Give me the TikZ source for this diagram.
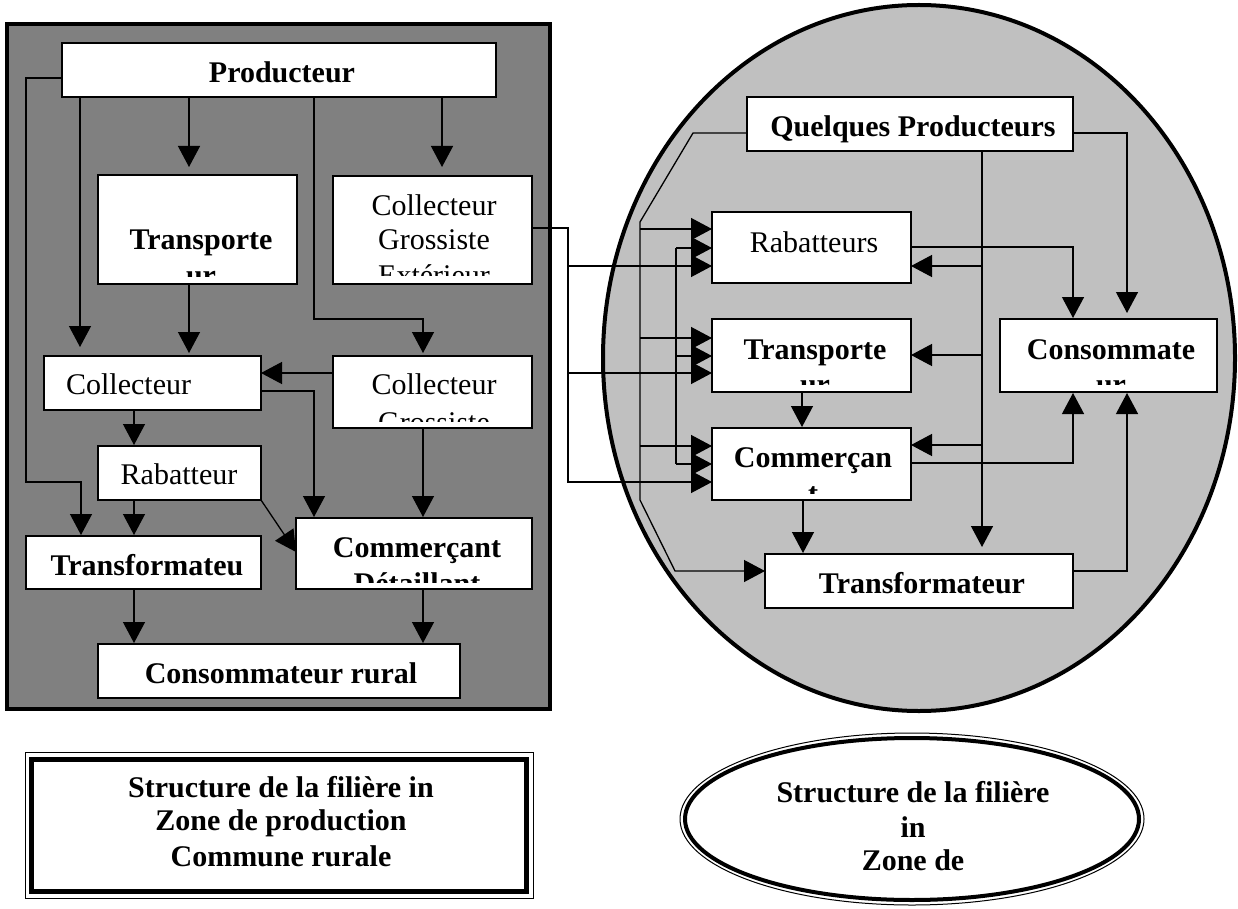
\documentclass[tikz,border=0pt]{standalone}
\usepackage{fontspec}
\setmainfont{Liberation Serif}
\usetikzlibrary{arrows.meta}
\definecolor{darkpanel}{HTML}{808080}
\definecolor{lightpanel}{HTML}{C0C0C0}
\begin{document}
\begin{tikzpicture}[x=1pt, y=-1pt,
  box/.style={draw, line width=1.4pt, fill=white, inner sep=0pt, outer sep=0pt},
  conn/.style={line width=1.3pt},
  arr/.style={conn, -{Triangle[length=21pt,width=22pt]}},
  txt/.style={anchor=base, inner sep=0pt, font=\fontsize{30}{34}\selectfont},
  btxt/.style={anchor=base, inner sep=0pt, font=\fontsize{30}{34}\selectfont\bfseries}]
\useasboundingbox (0,0) rectangle (1238,909);
\fill[white] (0,0) rectangle (1238,909);

% panels
\draw[line width=4.5pt, fill=darkpanel] (7,24) rectangle (550,709);
\draw[line width=4pt, fill=lightpanel] (919,358) ellipse [x radius=316pt, y radius=353pt];

% ---------- left boxes ----------
\node[box, minimum width=434pt, minimum height=54pt] (prod) at (279,70) {};
\node[box, minimum width=199pt, minimum height=109pt] (ltr) at (197.5,229.5) {};
\node[box, minimum width=199pt, minimum height=108pt] (cge) at (432.5,230) {};
\node[box, minimum width=217pt, minimum height=54pt] (coll) at (152.5,383) {};
\node[box, minimum width=199pt, minimum height=72pt] (cg) at (432.5,392) {};
\node[box, minimum width=163pt, minimum height=54pt] (rab) at (179.5,473) {};
\node[box, minimum width=235pt, minimum height=53pt] (trf) at (143.5,562.5) {};
\node[box, minimum width=236pt, minimum height=71pt] (cd) at (414,553.5) {};
\node[box, minimum width=362pt, minimum height=54pt] (cr) at (279,671) {};

% ---------- right boxes ----------
\node[box, minimum width=326pt, minimum height=54pt] (qp) at (910,124) {};
\node[box, minimum width=199pt, minimum height=71pt] (rrab) at (811.5,247.5) {};
\node[box, minimum width=199pt, minimum height=73pt] (rtr) at (811.5,355.5) {};
\node[box, minimum width=199pt, minimum height=72pt] (rcom) at (811.5,464) {};
\node[box, minimum width=217pt, minimum height=73pt] (rcons) at (1108.5,355.5) {};
\node[box, minimum width=308pt, minimum height=54pt] (rtrf) at (919,581) {};

% ---------- left texts ----------
\node[btxt] (tprod) at (282,83) {Producteur};
\begin{scope}
  \clip (98,175) rectangle (297,276);
  \node[btxt] (tltr1) at (201,250) {Transporte};
  \node[btxt] (tltr2) at (201,285) {ur};
\end{scope}
\begin{scope}
  \clip (333,176) rectangle (532,275);
  \node[txt] (tcge1) at (434,215) {Collecteur};
  \node[txt] (tcge2) at (434,250) {Grossiste};
  \node[txt] (tcge3) at (434,285) {Extérieur};
\end{scope}
\node[txt] (tcoll) at (128.6,394) {Collecteur};
\begin{scope}
  \clip (333,356) rectangle (532,421);
  \node[txt] (tcg1) at (434,394) {Collecteur};
  \node[txt] (tcg2) at (434,432) {Grossiste};
\end{scope}
\node[txt] (trab) at (179,484) {Rabatteur};
\node[btxt] (ttrf) at (147,575) {Transformateu};
\begin{scope}
  \clip (296,518) rectangle (532,582);
  \node[btxt] (tcd1) at (417,557) {Commerçant};
  \node[btxt] (tcd2) at (417,593) {Détaillant};
\end{scope}
\node[btxt] (tcr) at (281,683) {Consommateur rural};

% ---------- right texts ----------
\node[btxt] (tqp) at (913,137) {Quelques Producteurs};
\node[txt] (trrab) at (814,252) {Rabatteurs};
\begin{scope}
  \clip (712,319) rectangle (911,384);
  \node[btxt] (trtr1) at (815,359) {Transporte};
  \node[btxt] (trtr2) at (815,394) {ur};
\end{scope}
\begin{scope}
  \clip (712,428) rectangle (911,493);
  \node[btxt] (trcom1) at (813,467) {Commerçan};
  \node[btxt] (trcom2) at (813,503) {t};
\end{scope}
\begin{scope}
  \clip (1000,319) rectangle (1217,384);
  \node[btxt] (trcons1) at (1111,359) {Consommate};
  \node[btxt] (trcons2) at (1111,394) {ur};
\end{scope}
\node[btxt] (trtrf) at (922,593) {Transformateur};

% ---------- left connectors ----------
\draw[arr, shorten >=1pt] (prod.west |- 0,78) -- (26,78) -- (26,482) -- (81,482) -- (81,0 |- trf.north);
\draw[arr, shorten >=9pt] (80,0 |- prod.south) -- (80,0 |- coll.north);
\draw[arr, shorten >=8pt] (189,0 |- prod.south) -- (189,0 |- ltr.north);
\draw[arr, shorten >=9pt] (442,0 |- prod.south) -- (442,0 |- cge.north);
\draw[arr, shorten >=3pt] (314,0 |- prod.south) -- (314,319) -- (423,319) -- (423,0 |- cg.north);
\draw[arr, shorten >=3pt] (189,0 |- ltr.south) -- (189,0 |- coll.north);
\draw[arr] (cg.west |- 0,373) -- (coll.east |- 0,373);
\draw[arr, shorten >=1pt] (coll.east |- 0,391) -- (314,391) -- (314,0 |- cd.north);
\draw[arr, shorten >=1pt] (134,0 |- coll.south) -- (134,0 |- rab.north);
\draw[arr, shorten >=1pt] (134,0 |- rab.south) -- (134,0 |- trf.north);
\draw[arr] (rab.south east) -- (cd.west |- 0,552);
\draw[arr, shorten >=1pt] (423,0 |- cg.south) -- (423,0 |- cd.north);
\draw[arr, shorten >=1pt] (134,0 |- trf.south) -- (134,0 |- cr.north);
\draw[arr, shorten >=1pt] (423,0 |- cd.south) -- (423,0 |- cr.north);

% ---------- links into right panel ----------
\coordinate (ja) at (568,266);
\coordinate (jb) at (568,373);
\draw[arr] (cge.east |- 0,228) -- (568,228) -- (568,482) -- (rcom.west |- 0,482);
\draw[arr] (ja) -- (rrab.west |- ja);
\draw[arr] (jb) -- (rtr.west |- jb);

\coordinate (jc) at (640,229);
\coordinate (jd) at (640,338);
\coordinate (je) at (640,446);
\draw[arr] (qp.west |- 0,133) -- (693,133) -- (640,222) -- (640,500) -- (675,571) -- (rtrf.west |- 0,571);
\draw[arr] (jc) -- (rrab.west |- jc);
\draw[arr] (jd) -- (rtr.west |- jd);
\draw[arr] (je) -- (rcom.west |- je);

\coordinate (jf) at (676,248);
\coordinate (jg) at (676,356);
\coordinate (jh) at (676,464);
\draw[conn] (jf) -- (jh);
\draw[arr] (jf) -- (rrab.west |- jf);
\draw[arr] (jg) -- (rtr.west |- jg);
\draw[arr] (jh) -- (rcom.west |- jh);

\coordinate (ji) at (982,266);
\coordinate (jj) at (982,355);
\coordinate (jk) at (982,445);
\draw[arr, shorten >=7pt] (982,0 |- qp.south) -- (982,0 |- rtrf.north);
\draw[arr] (ji) -- (rrab.east |- ji);
\draw[arr] (jj) -- (rtr.east |- jj);
\draw[arr] (jk) -- (rcom.east |- jk);

\draw[arr, shorten >=6pt] (qp.east |- 0,133) -- (1127,133) -- (1127,0 |- rcons.north);
\draw[arr, shorten >=1pt] (rrab.east |- 0,247) -- (1073,247) -- (1073,0 |- rcons.north);
\draw[arr, shorten >=1pt] (802,0 |- rtr.south) -- (802,0 |- rcom.north);
\draw[arr, shorten >=1pt] (rcom.east |- 0,463) -- (1073,463) -- (1073,0 |- rcons.south);
\draw[arr, shorten >=1pt] (rtrf.east |- 0,571) -- (1127,571) -- (1127,0 |- rcons.south);
\draw[arr, shorten >=1pt] (803,0 |- rcom.south) -- (803,0 |- rtrf.north);

% ---------- captions ----------
\draw[line width=1pt] (25,752) rectangle (533,898);
\draw[line width=5pt] (31,759) rectangle (526,891);
\node[btxt] (cap1) at (281,797) {Structure de la filière in};
\node[btxt] (cap2) at (281,830) {Zone de production};
\node[btxt] (cap3) at (281,866) {Commune rurale};

\draw[line width=1pt] (912,819) ellipse [x radius=232pt, y radius=86pt];
\draw[line width=4pt] (912,819) ellipse [x radius=227pt, y radius=81pt];
\node[btxt] (cap4) at (913,802) {Structure de la filière};
\node[btxt] (cap5) at (913,837) {in};
\node[btxt] (cap6) at (913,870) {Zone de};
\end{tikzpicture}
\end{document}
